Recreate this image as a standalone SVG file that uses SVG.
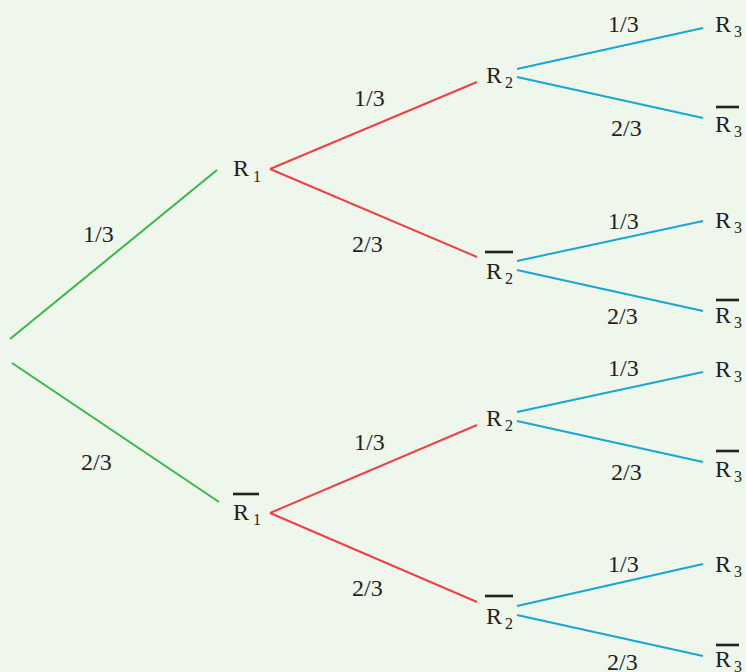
<svg xmlns="http://www.w3.org/2000/svg" width="746" height="672" viewBox="0 0 746 672">
<style>
text{font-family:"Liberation Serif","Times New Roman",serif;font-size:24px;fill:#231f20}
.sub{font-size:16px}
.g{stroke:#3cb54a;stroke-width:2;fill:none}
.r{stroke:#ee4145;stroke-width:2;fill:none}
.b{stroke:#1aa6d2;stroke-width:2;fill:none}
.bar{stroke:#231f20;stroke-width:2.6}
</style>
<rect width="746" height="672" fill="#eff6ec"/>
<g id="connectors">
<line class="g" x1="10" y1="339" x2="217" y2="170"/>
<line class="g" x1="12" y1="363" x2="219" y2="502"/>
<line class="r" x1="270" y1="169" x2="477" y2="82"/>
<line class="r" x1="270" y1="169" x2="477" y2="257"/>
<line class="r" x1="270" y1="513" x2="477" y2="425"/>
<line class="r" x1="270" y1="513" x2="477" y2="602"/>
<line class="b" x1="517" y1="69" x2="703" y2="28"/>
<line class="b" x1="517" y1="77" x2="703" y2="118"/>
<line class="b" x1="517" y1="261" x2="703" y2="221"/>
<line class="b" x1="517" y1="270" x2="703" y2="311"/>
<line class="b" x1="517" y1="412" x2="703" y2="372"/>
<line class="b" x1="517" y1="421" x2="703" y2="462"/>
<line class="b" x1="517" y1="606" x2="703" y2="564"/>
<line class="b" x1="517" y1="615" x2="703" y2="656"/>
<text x="83" y="242">1/3</text>
<text x="81" y="470">2/3</text>
<text x="354" y="106">1/3</text>
<text x="352" y="252">2/3</text>
<text x="354" y="450">1/3</text>
<text x="352" y="596">2/3</text>
<text x="608" y="32">1/3</text>
<text x="611" y="136">2/3</text>
<text x="608" y="229">1/3</text>
<text x="607" y="324">2/3</text>
<text x="608" y="376">1/3</text>
<text x="611" y="480">2/3</text>
<text x="608" y="572">1/3</text>
<text x="607" y="670">2/3</text>
</g>
<g id="n-R1"><text x="233" y="176">R<tspan class="sub" dx="4" dy="6">1</tspan></text></g>
<g id="n-R1bar"><line class="bar" x1="233" y1="494" x2="259" y2="494"/><text x="233" y="520">R<tspan class="sub" dx="4" dy="5">1</tspan></text></g>
<g id="n-R2a"><text x="486" y="83">R<tspan class="sub" dx="3" dy="5">2</tspan></text></g>
<g id="n-R2bar-b"><line class="bar" x1="485" y1="252" x2="513" y2="252"/><text x="486" y="279">R<tspan class="sub" dx="3" dy="5">2</tspan></text></g>
<g id="n-R2c"><text x="486" y="426">R<tspan class="sub" dx="3" dy="5">2</tspan></text></g>
<g id="n-R2bar-d"><line class="bar" x1="485" y1="596" x2="513" y2="596"/><text x="486" y="624">R<tspan class="sub" dx="3" dy="5">2</tspan></text></g>
<g id="n-R3a"><text x="715" y="32">R<tspan class="sub" dx="3" dy="5">3</tspan></text></g>
<g id="n-R3bar-a"><line class="bar" x1="716" y1="107" x2="739" y2="107"/><text x="715" y="132">R<tspan class="sub" dx="3" dy="5">3</tspan></text></g>
<g id="n-R3b"><text x="715" y="228">R<tspan class="sub" dx="3" dy="5">3</tspan></text></g>
<g id="n-R3bar-b"><line class="bar" x1="716" y1="300" x2="739" y2="300"/><text x="715" y="323">R<tspan class="sub" dx="3" dy="5">3</tspan></text></g>
<g id="n-R3c"><text x="715" y="377">R<tspan class="sub" dx="3" dy="5">3</tspan></text></g>
<g id="n-R3bar-c"><line class="bar" x1="716" y1="451" x2="739" y2="451"/><text x="715" y="477">R<tspan class="sub" dx="3" dy="5">3</tspan></text></g>
<g id="n-R3d"><text x="715" y="572">R<tspan class="sub" dx="3" dy="5">3</tspan></text></g>
<g id="n-R3bar-d"><line class="bar" x1="716" y1="645" x2="739" y2="645"/><text x="715" y="667">R<tspan class="sub" dx="3" dy="5">3</tspan></text></g>
</svg>
